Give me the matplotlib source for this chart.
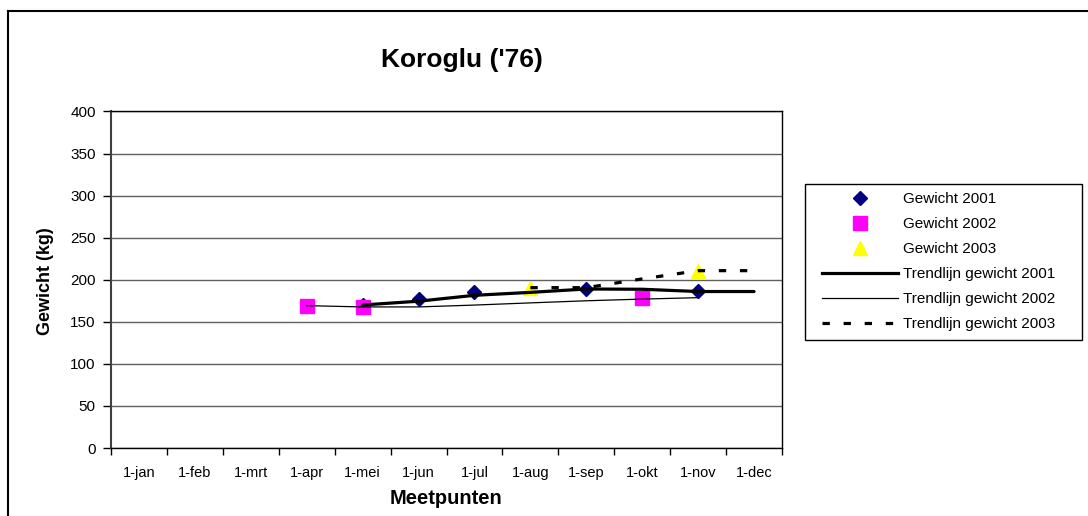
import numpy as np
import matplotlib
matplotlib.use("Agg")
import matplotlib.pyplot as plt
from matplotlib.lines import Line2D
from matplotlib.patches import Rectangle

plt.rcParams['font.family'] = ['Liberation Sans', 'DejaVu Sans']

nan = np.nan
months = ['1-jan', '1-feb', '1-mrt', '1-apr', '1-mei', '1-jun',
          '1-jul', '1-aug', '1-sep', '1-okt', '1-nov', '1-dec']
gewicht_2001 = [nan, nan, nan, nan, 170, 177, 185, nan, 188.5, nan, 187, nan]
gewicht_2002 = [nan, nan, nan, 169, 167.5, nan, nan, nan, nan, 178.7, nan, nan]
gewicht_2003 = [nan, nan, nan, nan, nan, nan, nan, 190, nan, nan, 210, nan]
trend_2001 = [nan, nan, nan, nan, 170, 174.5, 181.5, 185, 189, 188.7, 186, 186]
trend_2002 = [nan, nan, nan, 169.2, 167.7, 167.7, 169.9, 172.5, 175, 177, 178.7, nan]
trend_2003 = [nan, nan, nan, nan, nan, nan, nan, 190.6, 190.6, 201, 210.8, 210.8]
yticks = [0, 50, 100, 150, 200, 250, 300, 350, 400]

W, H = 1088, 516
fig = plt.figure(figsize=(W / 100, H / 100), dpi=100)
ax = fig.add_axes([111 / W, 1 - 448 / H, (782 - 111) / W, (448 - 111.5) / H])

x = np.arange(len(months)) + 0.5

ax.plot(x, gewicht_2001, linestyle='none', marker='D', ms=7.5, color='#000080',
        mec='#000080', zorder=3)
ax.plot(x, gewicht_2002, linestyle='none', marker='s', ms=10, color='#FF00FF',
        mec='#FF00FF', zorder=3)
ax.plot(x, gewicht_2003, linestyle='none', marker='^', ms=10, color='#FFFF00',
        mec='#FFFF00', zorder=3)
ax.plot(x, trend_2001, color='black', lw=2.3, zorder=4, solid_capstyle='round')
ax.plot(x, trend_2002, color='black', lw=0.9, zorder=4)
ax.plot(x, trend_2003, color='black', lw=2.3, zorder=4, linestyle=(0, (2.3, 4.3)),
        dash_capstyle='butt')

ax.set_xlim(0, 12)
ax.set_ylim(0, 400)
ax.set_yticks(yticks)
ax.set_yticklabels([str(v) for v in yticks], fontsize=11)
ax.tick_params(axis='y', length=6, width=1, pad=5, direction='out')
ax.set_xticks(np.arange(13))
ax.set_xticklabels([])
ax.set_xticks(x, minor=True)
ax.set_xticklabels(months, minor=True, fontsize=10.5)
ax.tick_params(axis='x', which='major', length=5, width=1, direction='out')
ax.tick_params(axis='x', which='minor', length=0, pad=13)

ax.yaxis.grid(True, color='#606060', lw=1)
ax.set_axisbelow(True)
for s in ax.spines.values():
    s.set_color('black')
    s.set_linewidth(1)
ax.spines['left'].set_color('#404040')
ax.spines['left'].set_linewidth(1.5)

fig.text(462 / W, 1 - 60 / H, "Koroglu ('76)", fontsize=19, fontweight='bold',
         ha='center', va='center')
fig.text(446 / W, 1 - 499 / H, 'Meetpunten', fontsize=14.5, fontweight='bold',
         ha='center', va='center')
fig.text(46 / W, 1 - 281 / H, 'Gewicht (kg)', fontsize=13, fontweight='bold',
         ha='center', va='center', rotation=90)

# outer chart border (left and top)
fig.add_artist(Line2D([8 / W, 8 / W], [0, 1 - 11 / H], color='black', lw=1.5,
                      transform=fig.transFigure))
fig.add_artist(Line2D([8 / W, 1], [1 - 11 / H, 1 - 11 / H], color='black', lw=1.5,
                      transform=fig.transFigure))

# legend box
fig.add_artist(Rectangle((805 / W, 1 - 340 / H), (1082 - 805) / W, (340 - 184) / H,
                         transform=fig.transFigure, fill=False, ec='black', lw=1))
handles = [
    Line2D([], [], linestyle='none', marker='D', ms=7, color='#000080'),
    Line2D([], [], linestyle='none', marker='s', ms=10, color='#FF00FF'),
    Line2D([], [], linestyle='none', marker='^', ms=10, color='#FFFF00'),
    Line2D([], [], color='black', lw=2.3),
    Line2D([], [], color='black', lw=0.9),
    Line2D([], [], color='black', lw=2.3, linestyle=(0, (2.3, 4.3))),
]
labels = ['Gewicht 2001', 'Gewicht 2002', 'Gewicht 2003',
          'Trendlijn gewicht 2001', 'Trendlijn gewicht 2002', 'Trendlijn gewicht 2003']
fig.legend(handles, labels, loc='upper left',
           bbox_to_anchor=(822 / W, 1 - 192 / H), frameon=False, fontsize=11,
           handlelength=5.0, handletextpad=0.3, labelspacing=0.72,
           borderpad=0.0, borderaxespad=0.0)

fig.savefig('out.png', dpi=100)
